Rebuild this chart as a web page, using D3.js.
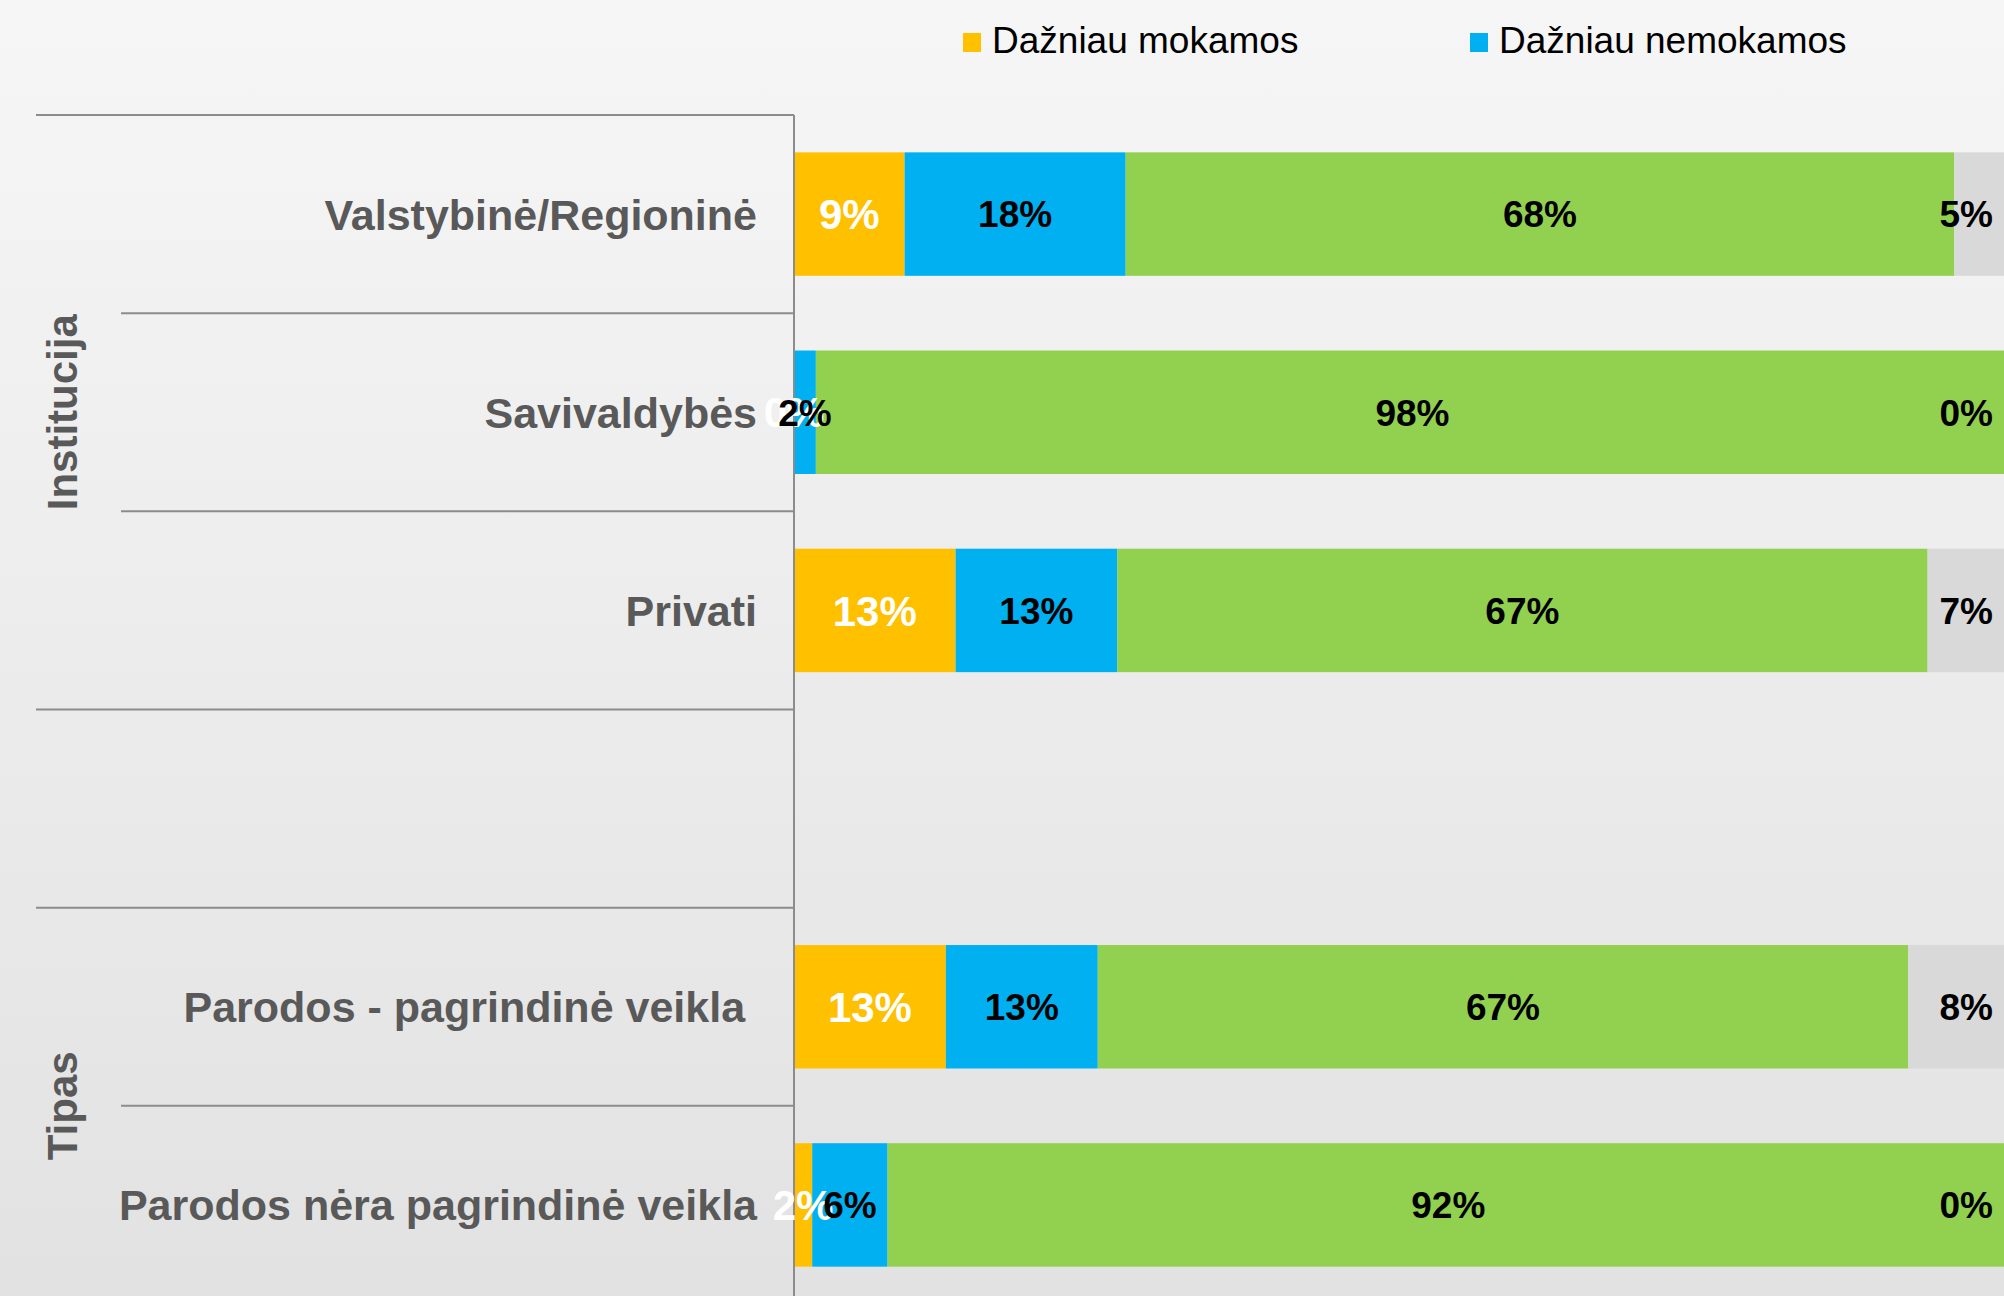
<!DOCTYPE html>
<meta charset="utf-8">
<style>
    body { margin: 0; overflow: hidden; }
    text { font-family: "Liberation Sans", Arial, sans-serif; }
</style>
<body>
<script src="https://d3js.org/d3.v7.min.js"></script>
<script>

    // categories (one empty spacer row between the two groups)
    var categories = ["Valstybinė/Regioninė", "Savivaldybės", "Privati", "",
                      "Parodos - pagrindinė veikla ", "Parodos nėra pagrindinė veikla"];
    var groupNames = ["Institucija", "", "Tipas"];
    var groupOf = [0, 0, 0, 1, 2, 2];

    // series values, %
    var mokamos   = [9.1, 0,    13.3, 0, 12.5, 1.5];
    var nemokamos = [18.2, 1.8, 13.3, 0, 12.5, 6.2];
    var zalia     = [68.2, 98.2, 66.7, 0, 66.7, 92.3];
    var pilka     = [4.5, 0,    6.7,  0, 8.3,  0];

    var seriesKeys = ["mokamos", "nemokamos", "zalia", "pilka"];
    var seriesColors = ["#FFC000", "#00B0F0", "#92D050", "#D9D9D9"];
    var labelColors = ["#ffffff", "#000000", "#000000", "#000000"];
    var labelSizes = [42, 37, 37, 37];
    var legendNames = ["Dažniau mokamos", "Dažniau nemokamos"];

    var W = 2004, H = 1296;
    var axisX = 794, plotTop = 115;

    var svg = d3.select("body").append("svg")
        .attr("width", W)
        .attr("height", H);

    // background gradient
    var grad = svg.append("defs").append("linearGradient")
        .attr("id", "bg").attr("x1", 0).attr("y1", 0).attr("x2", 0).attr("y2", 1);
    grad.append("stop").attr("offset", "0%").attr("stop-color", "#f6f6f6");
    grad.append("stop").attr("offset", "100%").attr("stop-color", "#e2e2e2");
    svg.append("rect").attr("width", W).attr("height", H).attr("fill", "url(#bg)");

    var rows = categories.map(function (c, i) {
        return { cat: c, mokamos: mokamos[i], nemokamos: nemokamos[i], zalia: zalia[i], pilka: pilka[i], blank: c === "" };
    });

    var x = d3.scaleLinear().domain([0, 100]).range([axisX, 2009]);
    var y = d3.scaleBand().domain(d3.range(categories.length))
        .range([plotTop, plotTop + 198.17 * categories.length])
        .paddingInner(0.377).paddingOuter(0.1885);
    var step = y.step();

    var stacked = d3.stack().keys(seriesKeys)(rows);

    // separator lines on the left
    for (var b = 0; b <= categories.length; b++) {
        var isGroupEdge = b === 0 || b === categories.length || groupOf[b] !== groupOf[b - 1];
        var yy = plotTop + b * step;
        svg.append("line")
            .attr("x1", isGroupEdge ? 36 : 121).attr("x2", axisX)
            .attr("y1", yy).attr("y2", yy)
            .attr("stroke", "#8c8c8c").attr("stroke-width", 2);
    }

    // bars
    stacked.forEach(function (s, si) {
        svg.append("g").selectAll("rect")
            .data(s.filter(function (d) { return !d.data.blank; }))
            .enter().append("rect")
            .attr("x", function (d) { return x(d[0]); })
            .attr("width", function (d) { return x(d[1]) - x(d[0]); })
            .attr("y", function (d) { return y(categories.indexOf(d.data.cat)); })
            .attr("height", y.bandwidth())
            .attr("fill", seriesColors[si]);
    });

    // vertical axis line
    svg.append("line")
        .attr("x1", axisX).attr("x2", axisX)
        .attr("y1", plotTop).attr("y2", H)
        .attr("stroke", "#8c8c8c").attr("stroke-width", 2);

    // category labels
    svg.append("g").selectAll("text")
        .data(categories)
        .enter().append("text")
        .attr("x", 757)
        .attr("y", function (d, i) { return y(i) + y.bandwidth() / 2; })
        .attr("dy", "0.36em")
        .attr("text-anchor", "end")
        .style("white-space", "pre")
        .attr("font-size", "43px")
        .attr("font-weight", "bold")
        .attr("fill", "#595959")
        .text(function (d) { return d; });

    // group labels (rotated)
    groupNames.forEach(function (g, gi) {
        if (!g) return;
        var idx = groupOf.map(function (v, i) { return v === gi ? i : -1; }).filter(function (v) { return v >= 0; });
        var y0 = plotTop + idx[0] * step, y1 = plotTop + (idx[idx.length - 1] + 1) * step;
        svg.append("text")
            .attr("transform", "translate(77," + ((y0 + y1) / 2) + ") rotate(-90)")
            .attr("text-anchor", "middle")
            .attr("font-size", "42px")
            .attr("font-weight", "bold")
            .attr("fill", "#595959")
            .text(g);
    });

    // value labels
    stacked.forEach(function (s, si) {
        var last = si === stacked.length - 1;
        svg.append("g").selectAll("text")
            .data(s.filter(function (d) { return !d.data.blank; }))
            .enter().append("text")
            .attr("x", function (d) { return last ? 1993 : (x(d[0]) + x(d[1])) / 2; })
            .attr("y", function (d) { return y(categories.indexOf(d.data.cat)) + y.bandwidth() / 2; })
            .attr("dy", "0.36em")
            .attr("text-anchor", last ? "end" : "middle")
            .attr("font-size", labelSizes[si] + "px")
            .attr("font-weight", "bold")
            .attr("fill", labelColors[si])
            .text(function (d) { return Math.round(d[1] - d[0]) + "%"; });
    });

    // legend
    var legendX = [963, 1470];
    legendNames.forEach(function (n, i) {
        svg.append("rect")
            .attr("x", legendX[i]).attr("y", 33)
            .attr("width", 18).attr("height", 19)
            .attr("fill", seriesColors[i]);
        svg.append("text")
            .attr("x", legendX[i] + 29).attr("y", 53)
            .attr("font-size", "37px")
            .attr("fill", "#000")
            .text(n);
    });

</script>
</body>
